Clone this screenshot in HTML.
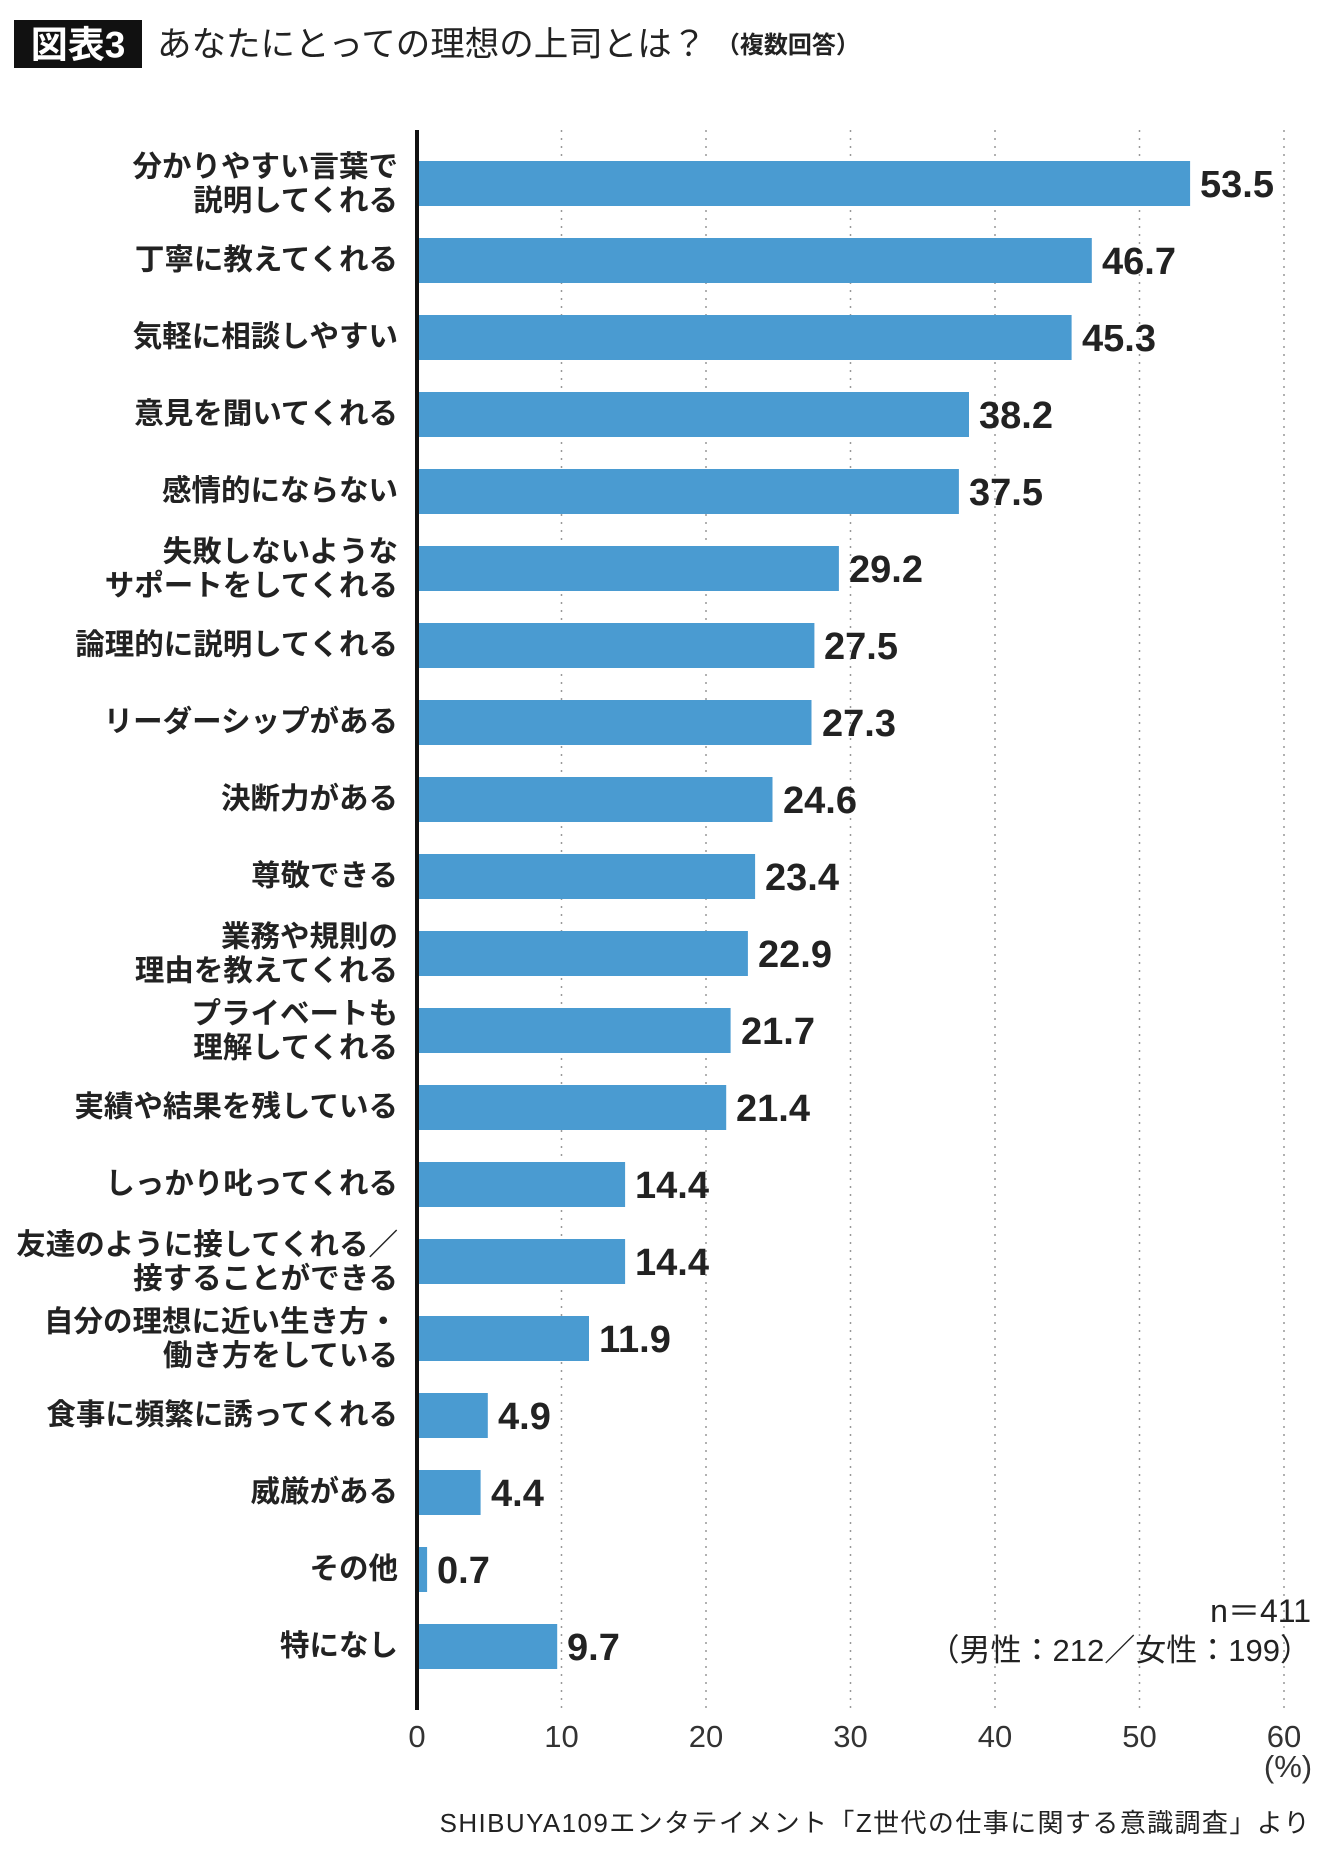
<!DOCTYPE html>
<html><head><meta charset="utf-8"><style>
html,body{margin:0;padding:0;background:#fff;}
svg{display:block;}
.l{font-family:"Liberation Sans","Noto Sans CJK JP",sans-serif;font-weight:bold;font-size:29.5px;fill:#222;text-anchor:end;dominant-baseline:central;}
.v{font-family:"Liberation Sans","Noto Sans CJK JP",sans-serif;font-weight:bold;font-size:38px;fill:#222;dominant-baseline:central;}
.t{font-family:"Liberation Sans","Noto Sans CJK JP",sans-serif;font-size:31px;fill:#333;text-anchor:middle;}
.g{stroke:#999;stroke-width:1.5;stroke-dasharray:2 6;}
rect.b{fill:#4a9bd1;}
</style></head><body>
<svg width="1340" height="1854" viewBox="0 0 1340 1854" xmlns="http://www.w3.org/2000/svg">
<rect x="14" y="20" width="128" height="48" fill="#111"/>
<text x="78" y="45" fill="#fff" font-family="Liberation Sans,Noto Sans CJK JP,sans-serif" font-size="37" font-weight="bold" text-anchor="middle" dominant-baseline="central">図表3</text>
<text x="157" y="45" fill="#222" font-family="Liberation Sans,Noto Sans CJK JP,sans-serif" font-size="34.5" dominant-baseline="central">あなたにとっての理想の上司とは？ <tspan font-size="24" font-weight="bold">（複数回答）</tspan></text>
<g class="g">
<line x1="561.5" y1="130" x2="561.5" y2="1710"/><line x1="706" y1="130" x2="706" y2="1710"/><line x1="850.5" y1="130" x2="850.5" y2="1710"/><line x1="995" y1="130" x2="995" y2="1710"/><line x1="1139.5" y1="130" x2="1139.5" y2="1710"/><line x1="1284" y1="130" x2="1284" y2="1710"/>
</g>
<g>
<rect class="b" x="417" y="161" width="773.1" height="45"/>
<rect class="b" x="417" y="238" width="674.8" height="45"/>
<rect class="b" x="417" y="315" width="654.6" height="45"/>
<rect class="b" x="417" y="392" width="552.0" height="45"/>
<rect class="b" x="417" y="469" width="541.9" height="45"/>
<rect class="b" x="417" y="546" width="421.9" height="45"/>
<rect class="b" x="417" y="623" width="397.4" height="45"/>
<rect class="b" x="417" y="700" width="394.5" height="45"/>
<rect class="b" x="417" y="777" width="355.5" height="45"/>
<rect class="b" x="417" y="854" width="338.1" height="45"/>
<rect class="b" x="417" y="931" width="330.9" height="45"/>
<rect class="b" x="417" y="1008" width="313.6" height="45"/>
<rect class="b" x="417" y="1085" width="309.2" height="45"/>
<rect class="b" x="417" y="1162" width="208.1" height="45"/>
<rect class="b" x="417" y="1239" width="208.1" height="45"/>
<rect class="b" x="417" y="1316" width="172.0" height="45"/>
<rect class="b" x="417" y="1393" width="70.8" height="45"/>
<rect class="b" x="417" y="1470" width="63.6" height="45"/>
<rect class="b" x="417" y="1547" width="10.1" height="45"/>
<rect class="b" x="417" y="1624" width="140.2" height="45"/>
</g>
<line x1="417" y1="130" x2="417" y2="1710" stroke="#111" stroke-width="4"/>
<g>
<text class="l" x="398" y="167">分かりやすい言葉で</text><text class="l" x="398" y="201">説明してくれる</text>
<text class="l" x="398" y="260">丁寧に教えてくれる</text>
<text class="l" x="398" y="337">気軽に相談しやすい</text>
<text class="l" x="398" y="414">意見を聞いてくれる</text>
<text class="l" x="398" y="491">感情的にならない</text>
<text class="l" x="398" y="552">失敗しないような</text><text class="l" x="398" y="586">サポートをしてくれる</text>
<text class="l" x="398" y="645">論理的に説明してくれる</text>
<text class="l" x="398" y="722">リーダーシップがある</text>
<text class="l" x="398" y="799">決断力がある</text>
<text class="l" x="398" y="876">尊敬できる</text>
<text class="l" x="398" y="937">業務や規則の</text><text class="l" x="398" y="971">理由を教えてくれる</text>
<text class="l" x="398" y="1014">プライベートも</text><text class="l" x="398" y="1048">理解してくれる</text>
<text class="l" x="398" y="1107">実績や結果を残している</text>
<text class="l" x="398" y="1184">しっかり叱ってくれる</text>
<text class="l" x="398" y="1245">友達のように接してくれる／</text><text class="l" x="398" y="1279">接することができる</text>
<text class="l" x="398" y="1322">自分の理想に近い生き方・</text><text class="l" x="398" y="1356">働き方をしている</text>
<text class="l" x="398" y="1415">食事に頻繁に誘ってくれる</text>
<text class="l" x="398" y="1492">威厳がある</text>
<text class="l" x="398" y="1569">その他</text>
<text class="l" x="398" y="1646">特になし</text>
</g>
<g>
<text class="v" x="1200" y="185">53.5</text>
<text class="v" x="1102" y="262">46.7</text>
<text class="v" x="1082" y="339">45.3</text>
<text class="v" x="979" y="416">38.2</text>
<text class="v" x="969" y="493">37.5</text>
<text class="v" x="849" y="570">29.2</text>
<text class="v" x="824" y="647">27.5</text>
<text class="v" x="822" y="724">27.3</text>
<text class="v" x="783" y="801">24.6</text>
<text class="v" x="765" y="878">23.4</text>
<text class="v" x="758" y="955">22.9</text>
<text class="v" x="741" y="1032">21.7</text>
<text class="v" x="736" y="1109">21.4</text>
<text class="v" x="635" y="1186">14.4</text>
<text class="v" x="635" y="1263">14.4</text>
<text class="v" x="599" y="1340">11.9</text>
<text class="v" x="498" y="1417">4.9</text>
<text class="v" x="491" y="1494">4.4</text>
<text class="v" x="437" y="1571">0.7</text>
<text class="v" x="567" y="1648">9.7</text>
</g>
<g>
<text class="t" x="417" y="1747">0</text><text class="t" x="561.5" y="1747">10</text><text class="t" x="706" y="1747">20</text><text class="t" x="850.5" y="1747">30</text><text class="t" x="995" y="1747">40</text><text class="t" x="1139.5" y="1747">50</text><text class="t" x="1284" y="1747">60</text>
<text class="t" x="1288" y="1777">(%)</text>
</g>
<text x="1311" y="1622" fill="#222" font-family="Liberation Sans,Noto Sans CJK JP,sans-serif" font-size="32" text-anchor="end">n＝411</text>
<text x="1311" y="1661" fill="#222" font-family="Liberation Sans,Noto Sans CJK JP,sans-serif" font-size="31" text-anchor="end">（男性：212／女性：199）</text>
<text x="1311" y="1832" fill="#222" font-family="Liberation Sans,Noto Sans CJK JP,sans-serif" font-size="26" text-anchor="end" letter-spacing="1.4">SHIBUYA109エンタテイメント「Z世代の仕事に関する意識調査」より</text>
</svg>
</body></html>
